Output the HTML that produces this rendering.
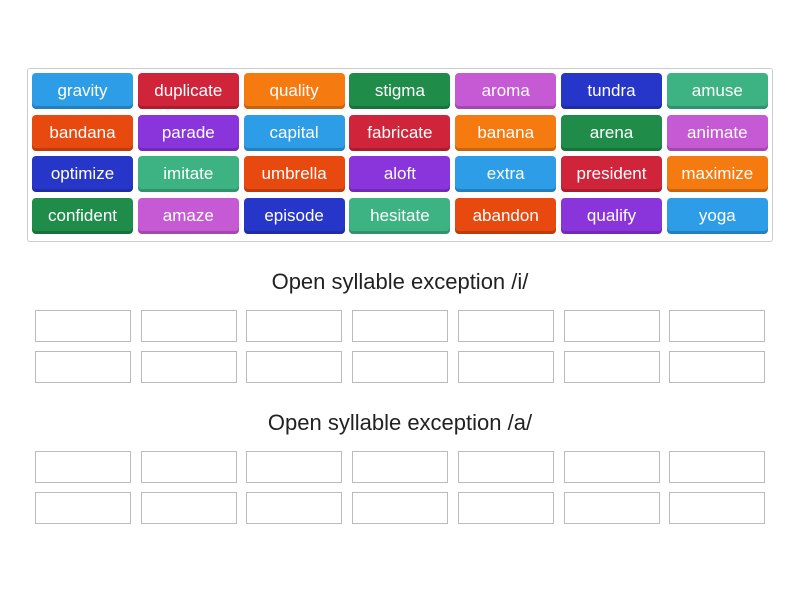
<!DOCTYPE html>
<html><head><style>
body{margin:0;width:800px;height:600px;background:#fff;font-family:"Liberation Sans",sans-serif;position:relative;overflow:hidden}
.c{position:absolute;left:27px;top:68px;width:744px;height:172px;border:1px solid #ccc;border-radius:3px}
.t{position:absolute;width:101px;height:36px;border-radius:4px;color:#fff;font-size:17px;line-height:35px;text-align:center;box-shadow:inset 0 -3px 0 rgba(0,0,0,.18)}
.b{position:absolute;width:94px;height:30px;border:1px solid #bbb}
.h{position:absolute;left:0;width:800px;text-align:center;font-size:22px;color:#222}
.B{background:#2c9de6}.R{background:#d0243a}.O{background:#f57a10}.G{background:#1f8c4a}.M{background:#c659d4}.N{background:#2636c8}.T{background:#3db383}.E{background:#e8490f}.P{background:#8a35dc}
</style></head><body>
<div class="c"></div>
<div id="tiles"></div>
<div class="h" style="top:269px">Open syllable exception /i/</div>
<div class="h" style="top:410px">Open syllable exception /a/</div>
<div id="boxes"></div>
<script>
var d=[["gravity","B","duplicate","R","quality","O","stigma","G","aroma","M","tundra","N","amuse","T"],
["bandana","E","parade","P","capital","B","fabricate","R","banana","O","arena","G","animate","M"],
["optimize","N","imitate","T","umbrella","E","aloft","P","extra","B","president","R","maximize","O"],
["confident","G","amaze","M","episode","N","hesitate","T","abandon","E","qualify","P","yoga","B"]];
var h="";
for(var r=0;r<4;r++)for(var c=0;c<7;c++){h+='<div class="t '+d[r][c*2+1]+'" style="left:'+(32+c*105.8)+'px;top:'+(73+r*41.5)+'px">'+d[r][c*2]+'</div>';}
document.getElementById("tiles").innerHTML=h;
h="";var ys=[310,351,451,492];
for(var i=0;i<4;i++)for(var c=0;c<7;c++){h+='<div class="b" style="left:'+(35+c*105.7)+'px;top:'+ys[i]+'px"></div>';}
document.getElementById("boxes").innerHTML=h;
</script>
</body></html>
